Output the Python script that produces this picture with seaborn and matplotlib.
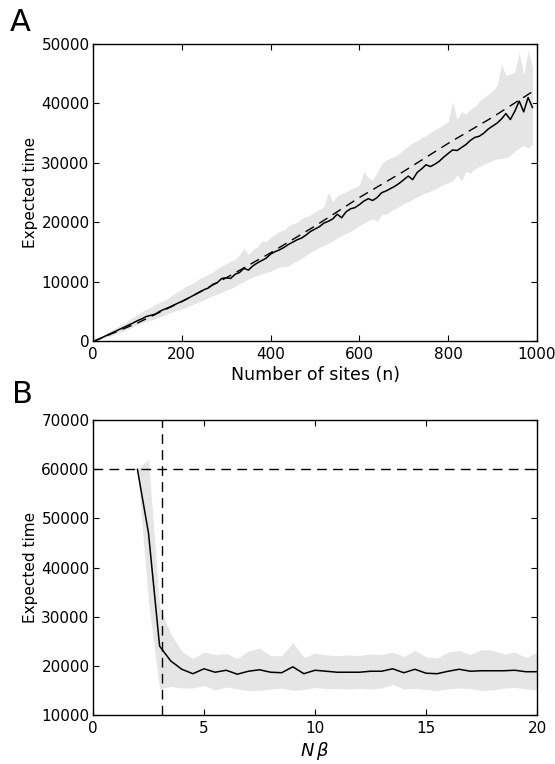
import numpy as np
import pandas as pd
import matplotlib
matplotlib.use("Agg")
import matplotlib.pyplot as plt
import seaborn as sns

# ---------------- Panel A data ----------------
n_sites = list(range(0, 1000, 10))
mean_a = [0, 300, 650, 1000, 1350, 1700, 2050, 2400, 2750, 3100,
          3500, 3800, 4200, 4400, 4600, 5050, 5400, 5700, 6050, 6400,
          6750, 7100, 7500, 7900, 8300, 8700, 9000, 9600, 9900, 10600,
          10700, 10600, 11300, 11600, 12300, 12000, 12700, 13200, 13600, 14000,
          14700, 15100, 15400, 15800, 16300, 16700, 17100, 17400, 17900, 18500,
          18900, 19300, 19900, 20200, 20600, 21400, 20800, 21800, 22300, 22500,
          23000, 23600, 24000, 23700, 24200, 25000, 25300, 25700, 26100, 26600,
          27200, 27800, 27200, 28400, 29000, 29700, 29400, 29800, 30300, 31000,
          31600, 32200, 32100, 32600, 33100, 33800, 34300, 34500, 35000, 35700,
          36200, 36700, 37400, 38300, 37300, 38700, 40400, 38600, 41000, 39300]
upper_a = [0, 450, 900, 1350, 1800, 2250, 2700, 3100, 3600, 4100,
           4500, 5000, 5500, 5700, 6200, 6600, 6900, 7300, 7900, 8300,
           8800, 9300, 9600, 10000, 10600, 10900, 11300, 11700, 12300, 12700,
           13100, 13500, 13800, 14600, 15600, 14600, 15400, 15900, 16900, 16800,
           17500, 18000, 18500, 18700, 19400, 19800, 20000, 20700, 21000, 21300,
           21800, 22200, 22700, 25000, 23500, 24500, 24800, 25200, 25600, 25900,
           26300, 28600, 27500, 27200, 28400, 29800, 30500, 30800, 31100, 31600,
           32300, 32800, 33400, 33700, 34300, 34600, 35100, 35600, 36000, 36500,
           37000, 40200, 37400, 38600, 38200, 39000, 39500, 40400, 41000, 41500,
           42100, 43000, 46600, 44700, 45000, 45300, 48600, 44800, 48900, 46000]
lower_a = [0, 200, 450, 700, 950, 1250, 1500, 1800, 2100, 2450,
           2800, 3100, 3350, 3600, 3800, 4100, 4400, 4700, 5000, 5250,
           5400, 5750, 6100, 6400, 6700, 7000, 7400, 7700, 8000, 8300,
           8600, 8900, 9300, 9700, 10100, 10500, 10800, 11100, 11400, 11600,
           11800, 12200, 12500, 12600, 12700, 13200, 13600, 14000, 14500, 15000,
           15400, 15800, 16200, 16500, 16900, 17400, 17800, 18200, 18500, 19000,
           19500, 19900, 20300, 20600, 20200, 21300, 21400, 21900, 22300, 22700,
           23200, 23500, 23900, 24300, 24700, 25000, 25300, 25600, 26000, 26400,
           26700, 27000, 28000, 27000, 28600, 28300, 29000, 29400, 29800, 30100,
           30400, 30700, 30800, 30900, 31300, 32000, 32500, 33000, 32500, 33200]
n_theory = [0, 100, 200, 300, 400, 500, 600, 700, 800, 900, 990]
theory_a = [0, 3100, 6700, 10700, 14900, 19400, 24200, 28600, 33300, 37700, 42000]

# ---------------- Panel B data ----------------
nbeta = [2.0, 2.5, 3.0, 3.5, 4.0, 4.5, 5.0, 5.5, 6.0, 6.5, 7.0, 7.5, 8.0, 8.5,
         9.0, 9.5, 10.0, 10.5, 11.0, 11.5, 12.0, 12.5, 13.0, 13.5, 14.0, 14.5,
         15.0, 15.5, 16.0, 16.5, 17.0, 17.5, 18.0, 18.5, 19.0, 19.5, 20.0]
mean_b = [60000, 47000, 24000, 21000, 19300, 18400, 19400, 18700, 19100, 18300,
          18900, 19200, 18700, 18600, 19800, 18400, 19100, 18900, 18700, 18700,
          18700, 18900, 18900, 19400, 18600, 19300, 18500, 18400, 18900, 19300,
          18900, 19000, 19000, 19000, 19100, 18800, 18800]
upper_b = [60000, 62000, 32000, 26500, 23000, 21500, 22800, 22300, 22500, 21500,
           23000, 23600, 22100, 22000, 24700, 21700, 22600, 22200, 22100, 22200,
           22100, 22400, 22300, 22800, 21900, 23100, 21800, 21600, 22800, 23100,
           22300, 23300, 23200, 22400, 22800, 21700, 22700]
lower_b = [60000, 33000, 15300, 15800, 15500, 15500, 16000, 15100, 15700, 15300,
           15000, 15000, 15300, 15500, 15000, 15200, 15600, 15400, 15400, 15300,
           15400, 15300, 15500, 16200, 15300, 15400, 15200, 15000, 15300, 15500,
           15400, 15000, 15100, 15500, 15600, 15300, 15100]
threshold_y = 60000
threshold_x = 3.1

df_a = pd.DataFrame({"n": n_sites, "t": mean_a})
df_ta = pd.DataFrame({"n": n_theory, "t": theory_a})
df_b = pd.DataFrame({"nb": nbeta, "t": mean_b})

sns.set_theme(style="ticks", rc={
    "xtick.direction": "in", "ytick.direction": "in",
    "xtick.top": True, "ytick.right": True,
    "xtick.major.size": 4, "ytick.major.size": 4,
    "xtick.major.width": 0.8, "ytick.major.width": 0.8,
    "axes.linewidth": 1.0, "axes.edgecolor": "black",
    "xtick.color": "black", "ytick.color": "black",
    "text.color": "black", "axes.labelcolor": "black",
})
plt.rcParams["font.family"] = ["DejaVu Sans"]
plt.rcParams["mathtext.fontset"] = "dejavusans"

fig = plt.figure(figsize=(5.55, 7.64), dpi=100)
W, H = 555, 764
axA = fig.add_axes([93 / W, 1 - 341.5 / H, 444 / W, (341.5 - 44) / H])
axB = fig.add_axes([93 / W, 1 - 715 / H, 444 / W, (715 - 420) / H])

band = "#e5e5e5"
dash = (7, 4.5)

# Panel A
axA.fill_between(n_sites, lower_a, upper_a, color=band, lw=0, zorder=1)
sns.lineplot(data=df_a, x="n", y="t", ax=axA, color="black", lw=1.1, zorder=3)
sns.lineplot(data=df_ta, x="n", y="t", ax=axA, color="black", lw=1.0,
             dashes=False, zorder=3).lines[-1].set_dashes(dash)
axA.set_xlim(0, 1000)
axA.set_ylim(0, 50000)
axA.set_xticks([0, 200, 400, 600, 800, 1000])
axA.set_yticks([0, 10000, 20000, 30000, 40000, 50000])
axA.set_xlabel("Number of sites (n)", fontsize=12.5, labelpad=3)
axA.set_ylabel("Expected time", fontsize=11, labelpad=2)

# Panel B
axB.fill_between(nbeta, lower_b, upper_b, color=band, lw=0, zorder=1)
sns.lineplot(data=df_b, x="nb", y="t", ax=axB, color="black", lw=1.1, zorder=3)
axB.axhline(threshold_y, color="black", lw=1.0, dashes=dash, zorder=2)
axB.axvline(threshold_x, color="black", lw=1.0, dashes=dash, zorder=2)
axB.set_xlim(0, 20)
axB.set_ylim(10000, 70000)
axB.set_xticks([0, 5, 10, 15, 20])
axB.set_yticks([10000, 20000, 30000, 40000, 50000, 60000, 70000])
axB.set_xlabel(r"$N\,\beta$", fontsize=13, labelpad=3)
axB.set_ylabel("Expected time", fontsize=11, labelpad=2)

for ax in (axA, axB):
    ax.tick_params(axis="both", labelsize=11)
    ax.tick_params(axis="y", pad=2.5)
    ax.tick_params(axis="x", pad=4)
    for s in ax.spines.values():
        s.set_visible(True)

fig.text(10 / W, 1 - 8 / H, "A", fontsize=22, va="top", ha="left")
fig.text(12 / W, 1 - 380 / H, "B", fontsize=22, va="top", ha="left")

fig.savefig("out.png", dpi=100)
